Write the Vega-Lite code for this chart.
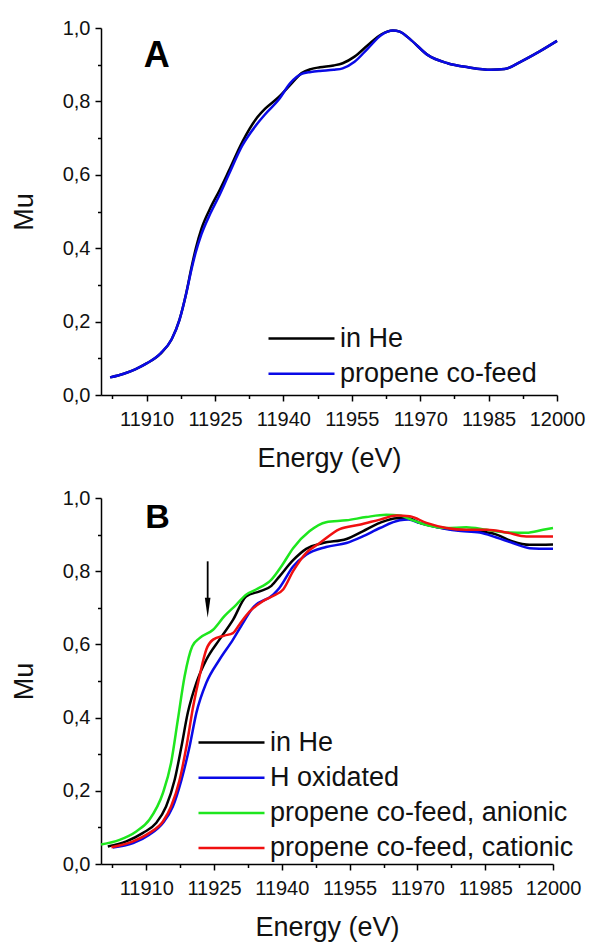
{
  "$schema": "https://vega.github.io/schema/vega-lite/v6.json",
  "padding": {"left": 10, "top": 18, "right": 5, "bottom": 5},
  "background": "white",
  "config": {
    "font": "Liberation Sans",
    "view": {"stroke": null},
    "axis": {
      "grid": false,
      "domainColor": "#000",
      "domainWidth": 1.5,
      "tickColor": "#000",
      "tickWidth": 1.5,
      "tickCount": 40,
      "labelFontSize": 20,
      "labelColor": "#111",
      "labelFont": "Liberation Sans",
      "titleFont": "Liberation Sans",
      "titleFontSize": 27,
      "titleFontWeight": "normal",
      "titleColor": "#111",
      "labelOverlap": false,
      "labelFlush": false
    },
    "legend": {
      "orient": "none",
      "title": null,
      "symbolType": "M-3,0L3,0",
      "symbolSize": 484,
      "symbolStrokeWidth": 2.5,
      "labelFontSize": 27,
      "labelFont": "Liberation Sans",
      "labelColor": "#111",
      "labelOffset": 25,
      "rowPadding": 7.2,
      "padding": 0,
      "labelLimit": 0
    }
  },
  "datasets": {
    "a": [
      {"series": "in He", "E": 11902, "mu": 0.048},
      {"series": "in He", "E": 11905, "mu": 0.058},
      {"series": "in He", "E": 11907.5, "mu": 0.070},
      {"series": "in He", "E": 11910, "mu": 0.086},
      {"series": "in He", "E": 11913, "mu": 0.112},
      {"series": "in He", "E": 11915.5, "mu": 0.152},
      {"series": "in He", "E": 11917.2, "mu": 0.205},
      {"series": "in He", "E": 11918.7, "mu": 0.278},
      {"series": "in He", "E": 11919.8, "mu": 0.345},
      {"series": "in He", "E": 11920.8, "mu": 0.400},
      {"series": "in He", "E": 11922, "mu": 0.452},
      {"series": "in He", "E": 11924, "mu": 0.510},
      {"series": "in He", "E": 11926, "mu": 0.558},
      {"series": "in He", "E": 11928, "mu": 0.610},
      {"series": "in He", "E": 11931, "mu": 0.690},
      {"series": "in He", "E": 11934, "mu": 0.752},
      {"series": "in He", "E": 11936, "mu": 0.780},
      {"series": "in He", "E": 11939, "mu": 0.812},
      {"series": "in He", "E": 11941.5, "mu": 0.845},
      {"series": "in He", "E": 11944, "mu": 0.877},
      {"series": "in He", "E": 11946, "mu": 0.888},
      {"series": "in He", "E": 11948, "mu": 0.893},
      {"series": "in He", "E": 11951, "mu": 0.898},
      {"series": "in He", "E": 11953, "mu": 0.904},
      {"series": "in He", "E": 11955.6, "mu": 0.922},
      {"series": "in He", "E": 11958.5, "mu": 0.953},
      {"series": "in He", "E": 11961.5, "mu": 0.983},
      {"series": "in He", "E": 11964, "mu": 0.993},
      {"series": "in He", "E": 11965.5, "mu": 0.990},
      {"series": "in He", "E": 11968, "mu": 0.967},
      {"series": "in He", "E": 11971.7, "mu": 0.926},
      {"series": "in He", "E": 11976, "mu": 0.904},
      {"series": "in He", "E": 11980.5, "mu": 0.893},
      {"series": "in He", "E": 11985.5, "mu": 0.886},
      {"series": "in He", "E": 11988.5, "mu": 0.888},
      {"series": "in He", "E": 11992, "mu": 0.908},
      {"series": "in He", "E": 11996, "mu": 0.935},
      {"series": "in He", "E": 12000, "mu": 0.965},
      {"series": "propene co-feed", "E": 11902, "mu": 0.048},
      {"series": "propene co-feed", "E": 11905, "mu": 0.058},
      {"series": "propene co-feed", "E": 11907.5, "mu": 0.070},
      {"series": "propene co-feed", "E": 11910, "mu": 0.086},
      {"series": "propene co-feed", "E": 11913, "mu": 0.113},
      {"series": "propene co-feed", "E": 11915.5, "mu": 0.152},
      {"series": "propene co-feed", "E": 11917.2, "mu": 0.204},
      {"series": "propene co-feed", "E": 11918.7, "mu": 0.277},
      {"series": "propene co-feed", "E": 11919.8, "mu": 0.340},
      {"series": "propene co-feed", "E": 11920.8, "mu": 0.390},
      {"series": "propene co-feed", "E": 11922, "mu": 0.437},
      {"series": "propene co-feed", "E": 11924, "mu": 0.495},
      {"series": "propene co-feed", "E": 11926, "mu": 0.545},
      {"series": "propene co-feed", "E": 11928, "mu": 0.600},
      {"series": "propene co-feed", "E": 11931, "mu": 0.680},
      {"series": "propene co-feed", "E": 11934, "mu": 0.735},
      {"series": "propene co-feed", "E": 11936, "mu": 0.765},
      {"series": "propene co-feed", "E": 11939, "mu": 0.805},
      {"series": "propene co-feed", "E": 11941.5, "mu": 0.850},
      {"series": "propene co-feed", "E": 11944, "mu": 0.875},
      {"series": "propene co-feed", "E": 11946, "mu": 0.880},
      {"series": "propene co-feed", "E": 11948, "mu": 0.883},
      {"series": "propene co-feed", "E": 11951, "mu": 0.886},
      {"series": "propene co-feed", "E": 11953, "mu": 0.890},
      {"series": "propene co-feed", "E": 11955.6, "mu": 0.908},
      {"series": "propene co-feed", "E": 11958.5, "mu": 0.944},
      {"series": "propene co-feed", "E": 11961.5, "mu": 0.981},
      {"series": "propene co-feed", "E": 11964, "mu": 0.993},
      {"series": "propene co-feed", "E": 11965.5, "mu": 0.990},
      {"series": "propene co-feed", "E": 11968, "mu": 0.967},
      {"series": "propene co-feed", "E": 11971.7, "mu": 0.926},
      {"series": "propene co-feed", "E": 11976, "mu": 0.904},
      {"series": "propene co-feed", "E": 11980.5, "mu": 0.893},
      {"series": "propene co-feed", "E": 11985.5, "mu": 0.886},
      {"series": "propene co-feed", "E": 11988.5, "mu": 0.888},
      {"series": "propene co-feed", "E": 11992, "mu": 0.908},
      {"series": "propene co-feed", "E": 11996, "mu": 0.935},
      {"series": "propene co-feed", "E": 12000, "mu": 0.965}
    ],
    "b": [
      {"series": "in He", "E": 11901.5, "mu": 0.048},
      {"series": "in He", "E": 11905.6, "mu": 0.062},
      {"series": "in He", "E": 11909.3, "mu": 0.085},
      {"series": "in He", "E": 11912.2, "mu": 0.112},
      {"series": "in He", "E": 11914.4, "mu": 0.157},
      {"series": "in He", "E": 11916.3, "mu": 0.230},
      {"series": "in He", "E": 11917.8, "mu": 0.321},
      {"series": "in He", "E": 11919.2, "mu": 0.413},
      {"series": "in He", "E": 11921.1, "mu": 0.495},
      {"series": "in He", "E": 11923.3, "mu": 0.558},
      {"series": "in He", "E": 11926.2, "mu": 0.613},
      {"series": "in He", "E": 11929.2, "mu": 0.667},
      {"series": "in He", "E": 11932.1, "mu": 0.731},
      {"series": "in He", "E": 11935.1, "mu": 0.745},
      {"series": "in He", "E": 11937.7, "mu": 0.760},
      {"series": "in He", "E": 11939.5, "mu": 0.786},
      {"series": "in He", "E": 11942.5, "mu": 0.830},
      {"series": "in He", "E": 11945.4, "mu": 0.861},
      {"series": "in He", "E": 11949.1, "mu": 0.877},
      {"series": "in He", "E": 11954.3, "mu": 0.888},
      {"series": "in He", "E": 11957.9, "mu": 0.909},
      {"series": "in He", "E": 11961.7, "mu": 0.932},
      {"series": "in He", "E": 11965.4, "mu": 0.945},
      {"series": "in He", "E": 11968, "mu": 0.945},
      {"series": "in He", "E": 11970.5, "mu": 0.932},
      {"series": "in He", "E": 11974.2, "mu": 0.921},
      {"series": "in He", "E": 11978.6, "mu": 0.913},
      {"series": "in He", "E": 11983.8, "mu": 0.909},
      {"series": "in He", "E": 11987.5, "mu": 0.900},
      {"series": "in He", "E": 11991.1, "mu": 0.881},
      {"series": "in He", "E": 11994.8, "mu": 0.872},
      {"series": "in He", "E": 12000, "mu": 0.873},
      {"series": "H oxidated", "E": 11902.6, "mu": 0.045},
      {"series": "H oxidated", "E": 11907.1, "mu": 0.057},
      {"series": "H oxidated", "E": 11910.7, "mu": 0.080},
      {"series": "H oxidated", "E": 11913.7, "mu": 0.112},
      {"series": "H oxidated", "E": 11915.9, "mu": 0.157},
      {"series": "H oxidated", "E": 11917.8, "mu": 0.230},
      {"series": "H oxidated", "E": 11919.6, "mu": 0.321},
      {"series": "H oxidated", "E": 11921.1, "mu": 0.413},
      {"series": "H oxidated", "E": 11923.3, "mu": 0.495},
      {"series": "H oxidated", "E": 11926.2, "mu": 0.558},
      {"series": "H oxidated", "E": 11929.2, "mu": 0.613},
      {"series": "H oxidated", "E": 11931, "mu": 0.650},
      {"series": "H oxidated", "E": 11933.6, "mu": 0.700},
      {"series": "H oxidated", "E": 11938.1, "mu": 0.736},
      {"series": "H oxidated", "E": 11939.5, "mu": 0.755},
      {"series": "H oxidated", "E": 11942.5, "mu": 0.813},
      {"series": "H oxidated", "E": 11945.4, "mu": 0.845},
      {"series": "H oxidated", "E": 11949.8, "mu": 0.866},
      {"series": "H oxidated", "E": 11954.3, "mu": 0.877},
      {"series": "H oxidated", "E": 11957.9, "mu": 0.895},
      {"series": "H oxidated", "E": 11961.7, "mu": 0.918},
      {"series": "H oxidated", "E": 11966.1, "mu": 0.939},
      {"series": "H oxidated", "E": 11968, "mu": 0.941},
      {"series": "H oxidated", "E": 11970.5, "mu": 0.932},
      {"series": "H oxidated", "E": 11974.2, "mu": 0.921},
      {"series": "H oxidated", "E": 11978.6, "mu": 0.911},
      {"series": "H oxidated", "E": 11983.8, "mu": 0.906},
      {"series": "H oxidated", "E": 11987.5, "mu": 0.892},
      {"series": "H oxidated", "E": 11991.1, "mu": 0.877},
      {"series": "H oxidated", "E": 11994.8, "mu": 0.863},
      {"series": "H oxidated", "E": 12000, "mu": 0.861},
      {"series": "propene co-feed, anionic", "E": 11900, "mu": 0.053},
      {"series": "propene co-feed, anionic", "E": 11904.1, "mu": 0.066},
      {"series": "propene co-feed, anionic", "E": 11907.8, "mu": 0.089},
      {"series": "propene co-feed, anionic", "E": 11910.7, "mu": 0.121},
      {"series": "propene co-feed, anionic", "E": 11913.7, "mu": 0.194},
      {"series": "propene co-feed, anionic", "E": 11915.5, "mu": 0.276},
      {"series": "propene co-feed, anionic", "E": 11917, "mu": 0.394},
      {"series": "propene co-feed, anionic", "E": 11918.5, "mu": 0.513},
      {"series": "propene co-feed, anionic", "E": 11920.2, "mu": 0.595},
      {"series": "propene co-feed, anionic", "E": 11921.8, "mu": 0.617},
      {"series": "propene co-feed, anionic", "E": 11924.8, "mu": 0.640},
      {"series": "propene co-feed, anionic", "E": 11927.3, "mu": 0.677},
      {"series": "propene co-feed, anionic", "E": 11929.9, "mu": 0.708},
      {"series": "propene co-feed, anionic", "E": 11932.1, "mu": 0.736},
      {"series": "propene co-feed, anionic", "E": 11934.3, "mu": 0.750},
      {"series": "propene co-feed, anionic", "E": 11937.7, "mu": 0.777},
      {"series": "propene co-feed, anionic", "E": 11940, "mu": 0.815},
      {"series": "propene co-feed, anionic", "E": 11942.5, "mu": 0.863},
      {"series": "propene co-feed, anionic", "E": 11946.1, "mu": 0.909},
      {"series": "propene co-feed, anionic", "E": 11949.8, "mu": 0.934},
      {"series": "propene co-feed, anionic", "E": 11954.3, "mu": 0.939},
      {"series": "propene co-feed, anionic", "E": 11958.7, "mu": 0.948},
      {"series": "propene co-feed, anionic", "E": 11963.1, "mu": 0.954},
      {"series": "propene co-feed, anionic", "E": 11966.1, "mu": 0.952},
      {"series": "propene co-feed, anionic", "E": 11969, "mu": 0.939},
      {"series": "propene co-feed, anionic", "E": 11972.7, "mu": 0.924},
      {"series": "propene co-feed, anionic", "E": 11976.4, "mu": 0.918},
      {"series": "propene co-feed, anionic", "E": 11980.8, "mu": 0.920},
      {"series": "propene co-feed, anionic", "E": 11985.3, "mu": 0.913},
      {"series": "propene co-feed, anionic", "E": 11989.7, "mu": 0.906},
      {"series": "propene co-feed, anionic", "E": 11994.1, "mu": 0.905},
      {"series": "propene co-feed, anionic", "E": 11997.8, "mu": 0.913},
      {"series": "propene co-feed, anionic", "E": 12000, "mu": 0.918},
      {"series": "propene co-feed, cationic", "E": 11902.3, "mu": 0.046},
      {"series": "propene co-feed, cationic", "E": 11907.1, "mu": 0.062},
      {"series": "propene co-feed, cationic", "E": 11910.7, "mu": 0.085},
      {"series": "propene co-feed, cationic", "E": 11913.7, "mu": 0.116},
      {"series": "propene co-feed, cationic", "E": 11915.5, "mu": 0.157},
      {"series": "propene co-feed, cationic", "E": 11917.4, "mu": 0.230},
      {"series": "propene co-feed, cationic", "E": 11918.9, "mu": 0.321},
      {"series": "propene co-feed, cationic", "E": 11920.4, "mu": 0.431},
      {"series": "propene co-feed, cationic", "E": 11921.8, "mu": 0.513},
      {"series": "propene co-feed, cationic", "E": 11923.3, "mu": 0.586},
      {"series": "propene co-feed, cationic", "E": 11924.8, "mu": 0.613},
      {"series": "propene co-feed, cationic", "E": 11927.3, "mu": 0.624},
      {"series": "propene co-feed, cationic", "E": 11929.2, "mu": 0.631},
      {"series": "propene co-feed, cationic", "E": 11930.6, "mu": 0.654},
      {"series": "propene co-feed, cationic", "E": 11932.9, "mu": 0.690},
      {"series": "propene co-feed, cationic", "E": 11935.8, "mu": 0.718},
      {"series": "propene co-feed, cationic", "E": 11938.5, "mu": 0.735},
      {"series": "propene co-feed, cationic", "E": 11940.3, "mu": 0.750},
      {"series": "propene co-feed, cationic", "E": 11942.5, "mu": 0.800},
      {"series": "propene co-feed, cationic", "E": 11945.4, "mu": 0.850},
      {"series": "propene co-feed, cationic", "E": 11948.4, "mu": 0.877},
      {"series": "propene co-feed, cationic", "E": 11952.8, "mu": 0.915},
      {"series": "propene co-feed, cationic", "E": 11957.2, "mu": 0.927},
      {"series": "propene co-feed, cationic", "E": 11961.7, "mu": 0.941},
      {"series": "propene co-feed, cationic", "E": 11965.4, "mu": 0.952},
      {"series": "propene co-feed, cationic", "E": 11968.3, "mu": 0.950},
      {"series": "propene co-feed, cationic", "E": 11972, "mu": 0.932},
      {"series": "propene co-feed, cationic", "E": 11976.4, "mu": 0.918},
      {"series": "propene co-feed, cationic", "E": 11980.8, "mu": 0.913},
      {"series": "propene co-feed, cationic", "E": 11985.3, "mu": 0.913},
      {"series": "propene co-feed, cationic", "E": 11989.7, "mu": 0.906},
      {"series": "propene co-feed, cationic", "E": 11994.1, "mu": 0.895},
      {"series": "propene co-feed, cationic", "E": 12000, "mu": 0.895}
    ]
  },
  "spacing": 103,
  "bounds": "flush",
  "resolve": {"scale": {"color": "independent"}, "legend": {"color": "independent"}},
  "vconcat": [
    {
      "width": 456,
      "height": 367,
      "layer": [
        {
          "data": {"name": "a"},
          "mark": {"type": "line", "strokeWidth": 2.5, "interpolate": "monotone"},
          "encoding": {
            "x": {
              "field": "E", "type": "quantitative", "title": "Energy (eV)",
              "scale": {"domain": [11900, 12000], "nice": false, "zero": false},
              "axis": {
                "values": [11902.5, 11910, 11917.5, 11925, 11932.5, 11940, 11947.5, 11955, 11962.5, 11970, 11977.5, 11985, 11992.5, 12000],
                "tickCount": 40,
                "format": "d",
                "labelExpr": "datum.value % 15 == 0 ? datum.label : ''",
                "tickSize": {"condition": {"test": "datum.value % 15 == 0", "value": 6}, "value": 3.5},
                "labelPadding": 8,
                "titlePadding": 16
              }
            },
            "y": {
              "field": "mu", "type": "quantitative", "title": "Mu",
              "scale": {"domain": [0, 1], "nice": false},
              "axis": {
                "values": [0, 0.1, 0.2, 0.3, 0.4, 0.5, 0.6, 0.7, 0.8, 0.9, 1.0],
                "tickCount": 40,
                "labelExpr": "round(datum.value * 10) % 2 == 0 ? replace(format(datum.value, '.1f'), '.', ',') : ''",
                "tickSize": {"condition": {"test": "round(datum.value * 10) % 2 == 0", "value": 6}, "value": 3.5},
                "labelPadding": 5,
                "titlePadding": 24
              }
            },
            "color": {
              "field": "series", "type": "nominal",
              "scale": {"domain": ["in He", "propene co-feed"], "range": ["#000000", "#0a0ae6"]},
              "legend": {"legendX": 187, "legendY": 297}
            }
          }
        },
        {
          "data": {"values": [{"label": "A"}]},
          "mark": {"type": "text", "fontSize": 36, "fontWeight": "bold", "align": "left", "baseline": "alphabetic", "font": "Liberation Sans", "color": "#000"},
          "encoding": {
            "x": {"datum": 11909.4},
            "y": {"datum": 0.894},
            "text": {"field": "label"}
          }
        }
      ]
    },
    {
      "width": 452,
      "height": 366,
      "layer": [
        {
          "data": {"name": "b"},
          "mark": {"type": "line", "strokeWidth": 2.5, "interpolate": "monotone"},
          "encoding": {
            "x": {
              "field": "E", "type": "quantitative", "title": "Energy (eV)",
              "scale": {"domain": [11900, 12000], "nice": false, "zero": false},
              "axis": {
                "values": [11902.5, 11910, 11917.5, 11925, 11932.5, 11940, 11947.5, 11955, 11962.5, 11970, 11977.5, 11985, 11992.5, 12000],
                "tickCount": 40,
                "format": "d",
                "labelExpr": "datum.value % 15 == 0 ? datum.label : ''",
                "tickSize": {"condition": {"test": "datum.value % 15 == 0", "value": 6}, "value": 3.5},
                "labelPadding": 8,
                "titlePadding": 16
              }
            },
            "y": {
              "field": "mu", "type": "quantitative", "title": "Mu",
              "scale": {"domain": [0, 1], "nice": false},
              "axis": {
                "values": [0, 0.1, 0.2, 0.3, 0.4, 0.5, 0.6, 0.7, 0.8, 0.9, 1.0],
                "tickCount": 40,
                "labelExpr": "round(datum.value * 10) % 2 == 0 ? replace(format(datum.value, '.1f'), '.', ',') : ''",
                "tickSize": {"condition": {"test": "round(datum.value * 10) % 2 == 0", "value": 6}, "value": 3.5},
                "labelPadding": 5,
                "titlePadding": 24
              }
            },
            "color": {
              "field": "series", "type": "nominal",
              "scale": {"domain": ["in He", "H oxidated", "propene co-feed, anionic", "propene co-feed, cationic"], "range": ["#000000", "#0a0ae6", "#1ee61e", "#f01010"]},
              "legend": {"legendX": 117, "legendY": 231}
            }
          }
        },
        {
          "data": {"values": [{"label": "B"}]},
          "mark": {"type": "text", "fontSize": 34, "fontWeight": "bold", "align": "left", "baseline": "alphabetic", "font": "Liberation Sans", "color": "#000"},
          "encoding": {
            "x": {"datum": 11909.8},
            "y": {"datum": 0.918},
            "text": {"field": "label"}
          }
        },
        {
          "data": {"values": [{}]},
          "mark": {"type": "rule", "strokeWidth": 1.8, "color": "#000"},
          "encoding": {
            "x": {"datum": 11923.6},
            "y": {"datum": 0.827},
            "y2": {"datum": 0.715}
          }
        },
        {
          "data": {"values": [{}]},
          "mark": {"type": "point", "filled": true, "color": "#000", "opacity": 1, "shape": "M-0.28,-1L0.28,-1L0,1Z", "size": 400},
          "encoding": {
            "x": {"datum": 11923.6},
            "y": {"datum": 0.70}
          }
        }
      ]
    }
  ]
}
